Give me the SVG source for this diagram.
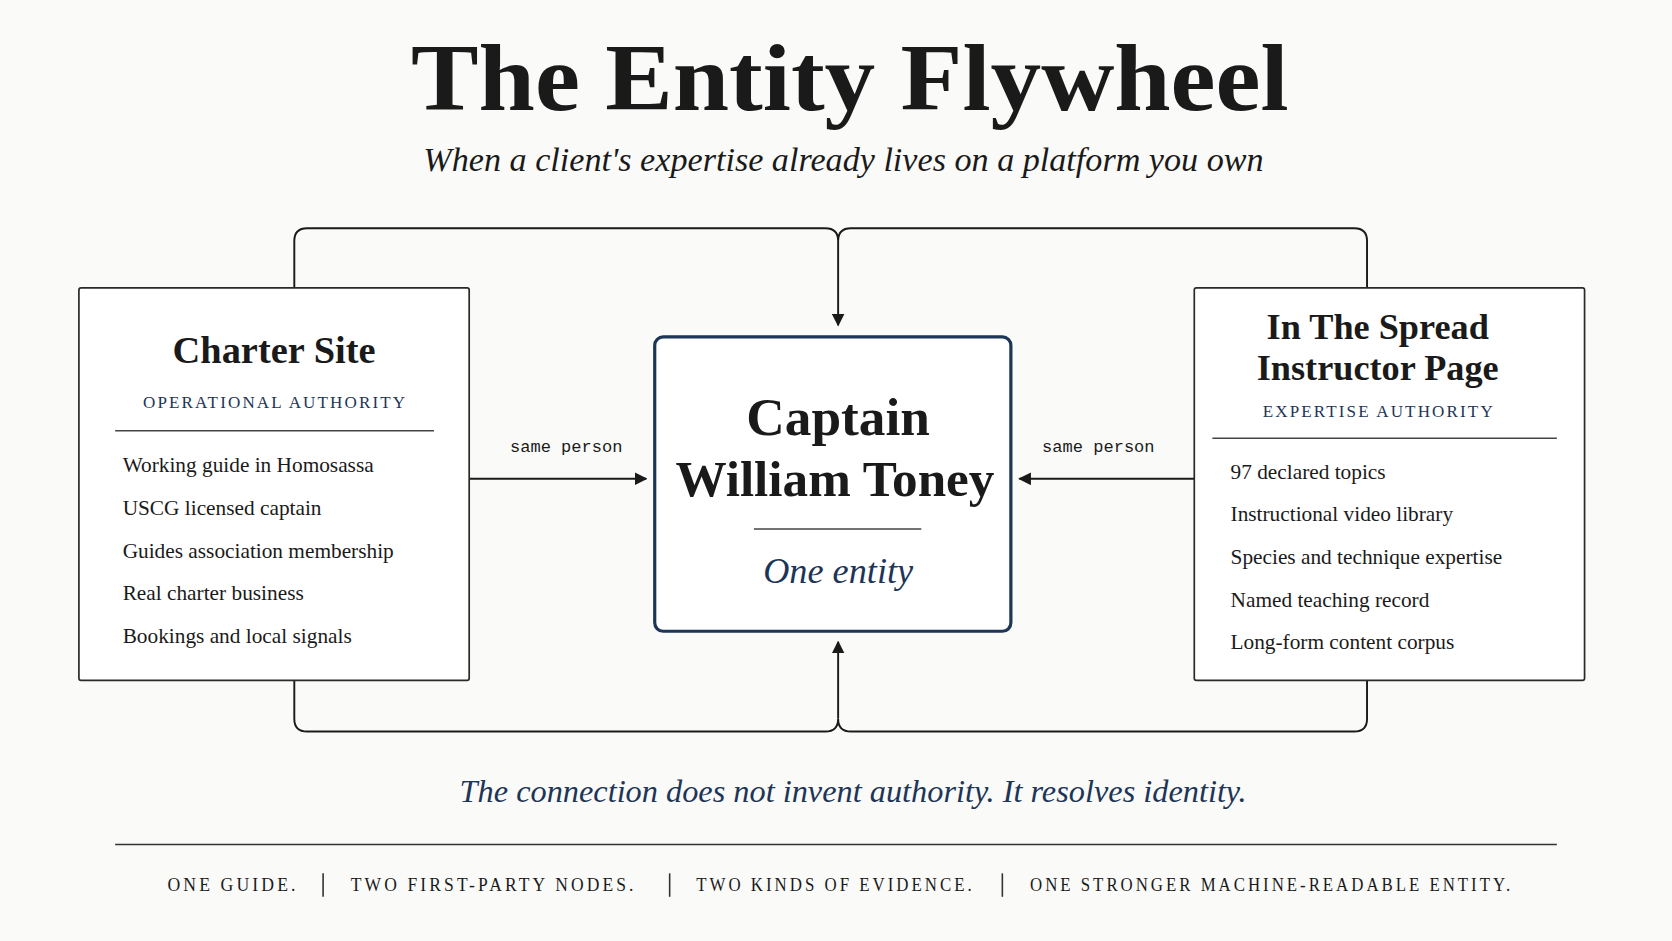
<svg xmlns="http://www.w3.org/2000/svg" width="1672" height="941" viewBox="0 0 1672 941">
<defs>
<marker id="ah" viewBox="0 0 10 10" refX="9" refY="5" markerWidth="12" markerHeight="12" markerUnits="userSpaceOnUse" orient="auto"><path d="M0,0 L10,5 L0,10 z" fill="#1a1a1a"/></marker>
<style>
.serif{font-family:"Liberation Serif","DejaVu Serif",serif;fill:#1a1a1a}
.navy{fill:#1d3557}
.box{fill:#fff;stroke:#2a2a2a;stroke-width:1.6}
.ln{fill:none;stroke:#1a1a1a;stroke-width:1.8}
.rule{stroke:#444;stroke-width:1.4}
.item{font-size:20px}
.cap{font-size:16px;letter-spacing:2px}
.mono{font-family:"Liberation Mono","DejaVu Sans Mono",monospace;font-size:16px;fill:#1a1a1a}
.foot{font-size:17px;letter-spacing:3px}
</style>
</defs>
<rect width="1672" height="941" fill="#fafaf8"/>
<g transform="scale(1.06633)">
<text class="serif" x="797" y="103" text-anchor="middle" font-size="90" font-weight="bold" textLength="823" lengthAdjust="spacingAndGlyphs">The Entity Flywheel</text>
<text class="serif" x="791" y="160" text-anchor="middle" font-size="32" font-style="italic" textLength="788" lengthAdjust="spacingAndGlyphs">When a client's expertise already lives on a platform you own</text>

<g id="connectors">
<path class="ln" d="M276,270 V226 Q276,214 288,214 H774 Q786,214 786,226 Q786,214 798,214 H1270 Q1282,214 1282,226 V270"/>
<path class="ln" d="M786,226 V305" marker-end="url(#ah)"/>
<path class="ln" d="M276,638 V674 Q276,686 288,686 H774 Q786,686 786,674 Q786,686 798,686 H1270 Q1282,686 1282,674 V638"/>
<path class="ln" d="M786,674 V602" marker-end="url(#ah)"/>
<path class="ln" d="M440,449 H606" marker-end="url(#ah)"/>
<path class="ln" d="M1120,449 H956" marker-end="url(#ah)"/>
<text class="mono" x="531" y="424" text-anchor="middle">same person</text>
<text class="mono" x="1030" y="424" text-anchor="middle">same person</text>
</g>

<g id="charter">
<rect class="box" x="74" y="270" width="366" height="368" rx="2"/>
<text class="serif" x="257" y="340" text-anchor="middle" font-size="36" font-weight="bold">Charter Site</text>
<text class="serif navy cap" x="258" y="383" text-anchor="middle">OPERATIONAL AUTHORITY</text>
<line class="rule" x1="108" y1="404" x2="407" y2="404"/>
<text class="serif item" x="115" y="443">Working guide in Homosassa</text>
<text class="serif item" x="115" y="483">USCG licensed captain</text>
<text class="serif item" x="115" y="523">Guides association membership</text>
<text class="serif item" x="115" y="563">Real charter business</text>
<text class="serif item" x="115" y="603">Bookings and local signals</text>
</g>

<g id="captain">
<rect x="614" y="316" width="334" height="276" rx="8" fill="#fff" stroke="#1d3557" stroke-width="3"/>
<text class="serif" x="786" y="408" text-anchor="middle" font-size="50" font-weight="bold">Captain</text>
<text class="serif" x="783" y="465" text-anchor="middle" font-size="48" font-weight="bold">William Toney</text>
<line class="rule" x1="707" y1="496" x2="864" y2="496"/>
<text class="serif navy" x="786" y="547" text-anchor="middle" font-size="34" font-style="italic">One entity</text>
</g>

<g id="spread">
<rect class="box" x="1120" y="270" width="366" height="368" rx="2"/>
<text class="serif" x="1292" y="318" text-anchor="middle" font-size="34" font-weight="bold">In The Spread</text>
<text class="serif" x="1292" y="356" text-anchor="middle" font-size="34" font-weight="bold">Instructor Page</text>
<text class="serif navy cap" x="1293" y="391" text-anchor="middle">EXPERTISE AUTHORITY</text>
<line class="rule" x1="1137" y1="411" x2="1460" y2="411"/>
<text class="serif item" x="1154" y="449">97 declared topics</text>
<text class="serif item" x="1154" y="489">Instructional video library</text>
<text class="serif item" x="1154" y="529">Species and technique expertise</text>
<text class="serif item" x="1154" y="569">Named teaching record</text>
<text class="serif item" x="1154" y="609">Long-form content corpus</text>
</g>

<text class="serif navy" x="800" y="752" text-anchor="middle" font-size="30" font-style="italic" textLength="738" lengthAdjust="spacingAndGlyphs">The connection does not invent authority. It resolves identity.</text>
<line x1="108" y1="792" x2="1460" y2="792" stroke="#333" stroke-width="1.5"/>
<g class="serif foot">
<text x="157" y="836" textLength="123" lengthAdjust="spacingAndGlyphs">ONE GUIDE.</text>
<text x="329" y="836" textLength="268" lengthAdjust="spacingAndGlyphs">TWO FIRST-PARTY NODES.</text>
<text x="653" y="836" textLength="261" lengthAdjust="spacingAndGlyphs">TWO KINDS OF EVIDENCE.</text>
<text x="966" y="836" textLength="453" lengthAdjust="spacingAndGlyphs">ONE STRONGER MACHINE-READABLE ENTITY.</text>
</g>
<g stroke="#333" stroke-width="1.5">
<line x1="303" y1="819" x2="303" y2="841"/>
<line x1="628" y1="819" x2="628" y2="841"/>
<line x1="940" y1="819" x2="940" y2="841"/>
</g>
</g>
</svg>
